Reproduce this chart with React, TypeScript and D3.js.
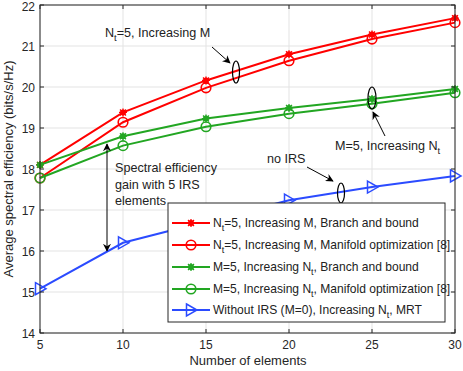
import React from "react";
import * as d3 from "d3";

const elements = [5, 10, 15, 20, 25, 30];
const redBnB = [18.1, 19.38, 20.16, 20.8, 21.28, 21.68];
const redMO = [17.78, 19.14, 19.98, 20.64, 21.17, 21.57];
const greenBnB = [18.1, 18.8, 19.23, 19.49, 19.71, 19.95];
const greenMO = [17.78, 18.57, 19.03, 19.35, 19.59, 19.86];
const noIRS = [15.08, 16.2, 16.72, 17.24, 17.56, 17.83];
const xTicks = [5, 10, 15, 20, 25, 30];
const yTicks = [14, 15, 16, 17, 18, 19, 20, 21, 22];

const RED = "#ff0000";
const GREEN = "#22a622";
const BLUE = "#2b4bff";

const W = 463;
const H = 371;
const m = { left: 40, right: 8, top: 5, bottom: 38 };

const x = d3.scaleLinear().domain([5, 30]).range([m.left, W - m.right]);
const y = d3.scaleLinear().domain([14, 22]).range([H - m.bottom, m.top]);

const font = "Helvetica, Arial, 'Liberation Sans', sans-serif";

type Series = { vals: number[]; color: string; marker: "star" | "circle" | "tri" };

const series: Series[] = [
  { vals: redBnB, color: RED, marker: "star" },
  { vals: redMO, color: RED, marker: "circle" },
  { vals: greenBnB, color: GREEN, marker: "star" },
  { vals: greenMO, color: GREEN, marker: "circle" },
  { vals: noIRS, color: BLUE, marker: "tri" },
];

const Marker = ({ cx, cy, color, type }: { cx: number; cy: number; color: string; type: string }) => {
  if (type === "star") {
    return (
      <g>
        <circle cx={cx} cy={cy} r={3} fill={color} />
        <path
          d={`M${cx - 4},${cy}L${cx + 4},${cy}M${cx},${cy - 4}L${cx},${cy + 4}M${cx - 3},${cy - 3}L${cx + 3},${cy + 3}M${cx - 3},${cy + 3}L${cx + 3},${cy - 3}`}
          stroke={color}
          strokeWidth={1.3}
        />
      </g>
    );
  }
  if (type === "circle") {
    return <circle cx={cx} cy={cy} r={4.8} fill="none" stroke={color} strokeWidth={1.6} />;
  }
  return (
    <path
      d={`M${cx - 4.5},${cy - 6}L${cx + 6},${cy}L${cx - 4.5},${cy + 6}Z`}
      fill="none"
      stroke={color}
      strokeWidth={1.5}
    />
  );
};

const legendItems = [
  { color: RED, marker: "star", pre: "N", sub: "t", post: "=5, Increasing M, Branch and bound" },
  { color: RED, marker: "circle", pre: "N", sub: "t", post: "=5, Increasing M, Manifold optimization [8]" },
  { color: GREEN, marker: "star", pre: "M=5, Increasing N", sub: "t", post: ", Branch and bound" },
  { color: GREEN, marker: "circle", pre: "M=5, Increasing N", sub: "t", post: ", Manifold optimization [8]" },
  { color: BLUE, marker: "tri", pre: "Without IRS (M=0), Increasing N", sub: "t", post: ", MRT" },
];

const SubText = ({ x0, y0, pre, sub, post, size = 12 }: any) => (
  <text x={x0} y={y0} fontSize={size} fontFamily={font} fill="#222">
    {pre}
    <tspan fontSize={size * 0.75} dy={4}>{sub}</tspan>
    <tspan dy={-4}>{post}</tspan>
  </text>
);

export default function App() {
  const line = d3
    .line<number>()
    .x((_, i) => x(elements[i]))
    .y((d) => y(d));

  const legendX = 168;
  const legendY = 203;
  const legendW = 277;
  const legendH = 119;
  const rowY = [223, 245, 267, 289, 310];

  return (
    <svg width={W} height={H} style={{ position: "absolute", left: 0, top: 0, background: "#fff" }}>
      <defs>
        <marker id="ah" viewBox="0 0 10 10" refX="9" refY="5" markerWidth="8" markerHeight="8" orient="auto-start-reverse">
          <path d="M0,0L10,5L0,10L3,5Z" fill="#000" />
        </marker>
      </defs>
      <rect x={0} y={0} width={W} height={H} fill="#fff" />
      {/* grid */}
      {xTicks.map((t) => (
        <line key={"gx" + t} x1={x(t)} x2={x(t)} y1={y(14)} y2={y(22)} stroke="#e3e3e3" strokeWidth={1} />
      ))}
      {yTicks.map((t) => (
        <line key={"gy" + t} x1={x(5)} x2={x(30)} y1={y(t)} y2={y(t)} stroke="#e3e3e3" strokeWidth={1} />
      ))}
      {/* series */}
      {series.map((s, k) => (
        <g key={k}>
          <path d={line(s.vals) || ""} fill="none" stroke={s.color} strokeWidth={2} />
          {s.vals.map((v, i) => (
            <Marker key={i} cx={x(elements[i])} cy={y(v)} color={s.color} type={s.marker} />
          ))}
        </g>
      ))}
      {/* axes box */}
      <rect x={x(5)} y={y(22)} width={x(30) - x(5)} height={y(14) - y(22)} fill="none" stroke="#262626" strokeWidth={1} />
      {xTicks.map((t) => (
        <g key={"tx" + t}>
          <line x1={x(t)} x2={x(t)} y1={y(14)} y2={y(14) - 4} stroke="#262626" />
          <line x1={x(t)} x2={x(t)} y1={y(22)} y2={y(22) + 4} stroke="#262626" />
          <text x={x(t)} y={y(14) + 16} textAnchor="middle" fontSize={12} fontFamily={font} fill="#262626">
            {t}
          </text>
        </g>
      ))}
      {yTicks.map((t) => (
        <g key={"ty" + t}>
          <line x1={x(5)} x2={x(5) + 4} y1={y(t)} y2={y(t)} stroke="#262626" />
          <line x1={x(30)} x2={x(30) - 4} y1={y(t)} y2={y(t)} stroke="#262626" />
          <text x={x(5) - 5} y={y(t) + (t === 22 ? 5.5 : 4.5)} textAnchor="end" fontSize={12} fontFamily={font} fill="#262626">
            {t}
          </text>
        </g>
      ))}
      <text x={248} y={365} textAnchor="middle" fontSize={13} fontFamily={font} fill="#262626">
        Number of elements
      </text>
      <text
        transform={`translate(13,${(y(14) + y(22)) / 2}) rotate(-90)`}
        textAnchor="middle"
        fontSize={13}
        fontFamily={font}
        fill="#262626"
      >
        Average spectral efficiency (bits/s/Hz)
      </text>

      {/* annotations */}
      <SubText x0={105} y0={37} pre="N" sub="t" post="=5, Increasing M" size={12.6} />
      <line x1={212} y1={47} x2={230} y2={63} stroke="#000" strokeWidth={1} markerEnd="url(#ah)" />
      <ellipse cx={236} cy={72} rx={3.5} ry={11} fill="none" stroke="#000" strokeWidth={1.2} />

      <SubText x0={335} y0={150} pre="M=5, Increasing N" sub="t" post="" size={12.6} />
      <line x1={385} y1={136} x2={373} y2={112} stroke="#000" strokeWidth={1} markerEnd="url(#ah)" />
      <ellipse cx={372} cy={98} rx={4} ry={11} fill="none" stroke="#000" strokeWidth={1.2} />

      <text x={267} y={163} fontSize={12.6} fontFamily={font} fill="#222">
        no IRS
      </text>
      <line x1={307} y1={167} x2={333} y2={181} stroke="#000" strokeWidth={1} markerEnd="url(#ah)" />
      <ellipse cx={341} cy={193} rx={3.5} ry={10} fill="none" stroke="#000" strokeWidth={1.2} />

      <line x1={107} y1={144} x2={107} y2={251} stroke="#000" strokeWidth={1} markerStart="url(#ah)" markerEnd="url(#ah)" />
      <text fontSize={12.6} fontFamily={font} fill="#222">
        <tspan x={115} y={172}>Spectral efficiency</tspan>
        <tspan x={115} y={189}>gain with 5 IRS</tspan>
        <tspan x={115} y={205}>elements</tspan>
      </text>

      {/* legend */}
      <rect x={legendX} y={legendY} width={legendW} height={legendH} fill="#fff" stroke="#262626" strokeWidth={1} />
      {legendItems.map((it, i) => (
        <g key={"lg" + i}>
          <line x1={172} x2={210} y1={rowY[i]} y2={rowY[i]} stroke={it.color} strokeWidth={2} />
          <Marker cx={191} cy={rowY[i]} color={it.color} type={it.marker} />
          <SubText x0={213} y0={rowY[i] + 4} pre={it.pre} sub={it.sub} post={it.post} size={12.05} />
        </g>
      ))}
    </svg>
  );
}
